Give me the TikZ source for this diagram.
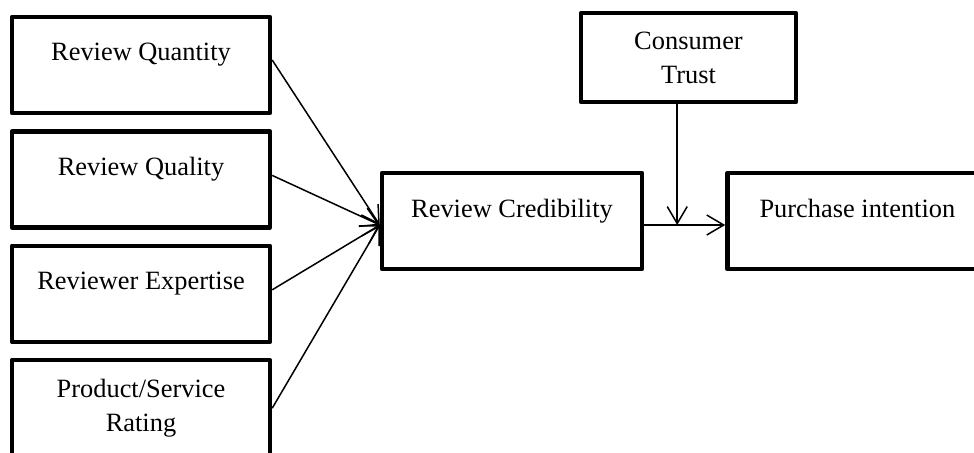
\documentclass[tikz,border=0pt]{standalone}
\usepackage{fontspec}
\setmainfont{Liberation Serif}
\usetikzlibrary{positioning,arrows.meta}

\begin{document}
\begin{tikzpicture}[x=0.5pt, y=-0.5pt, node distance=7pt and 40.5pt, >={Straight Barb[length=8.5pt,width=10pt]}, every node/.style={font=\fontsize{13.2pt}{17pt}\selectfont}, box/.style={draw, line width=2.2pt, line join=round, align=center, minimum width=129pt, minimum height=48pt}, link/.style={->, line width=0.75pt}]
\useasboundingbox (0,0) rectangle (974,452);
\node[box] (quantity) at (141,65) {Review Quantity\\[-4pt]\mbox{}};
\node[box, below=of quantity] (quality) {Review Quality\\[-4pt]\mbox{}};
\node[box, below=of quality] (expertise) {Reviewer Expertise\\[-4pt]\mbox{}};
\node[box, below=of expertise] (rating) {Product/Service\\Rating};
\node[box, minimum width=130pt] (cred) at (512,221) {Review Credibility\\[-4pt]\mbox{}};
\node[box, minimum width=130pt, right=of cred] (purchase) {Purchase intention\\[-4pt]\mbox{}};
\node[box, minimum width=107.5pt, minimum height=44.5pt] (trust) at (688.5,57.5) {Consumer\\Trust};
\coordinate (join) at ([yshift=-2pt]cred.west);
\coordinate (meet) at ([xshift=16.5pt,yshift=-2pt]cred.east);
\draw[link] ([yshift=2.5pt]quantity.east) -- (join);
\draw[link] ([yshift=2pt]quality.east) -- (join);
\draw[link] ([yshift=2pt]expertise.east) -- (join);
\draw[link] (rating.east) -- (join);
\draw[link] (cred.east |- meet) -- (purchase.west |- meet);
\draw[link] (trust.south -| meet) -- (meet);
\end{tikzpicture}
\end{document}
